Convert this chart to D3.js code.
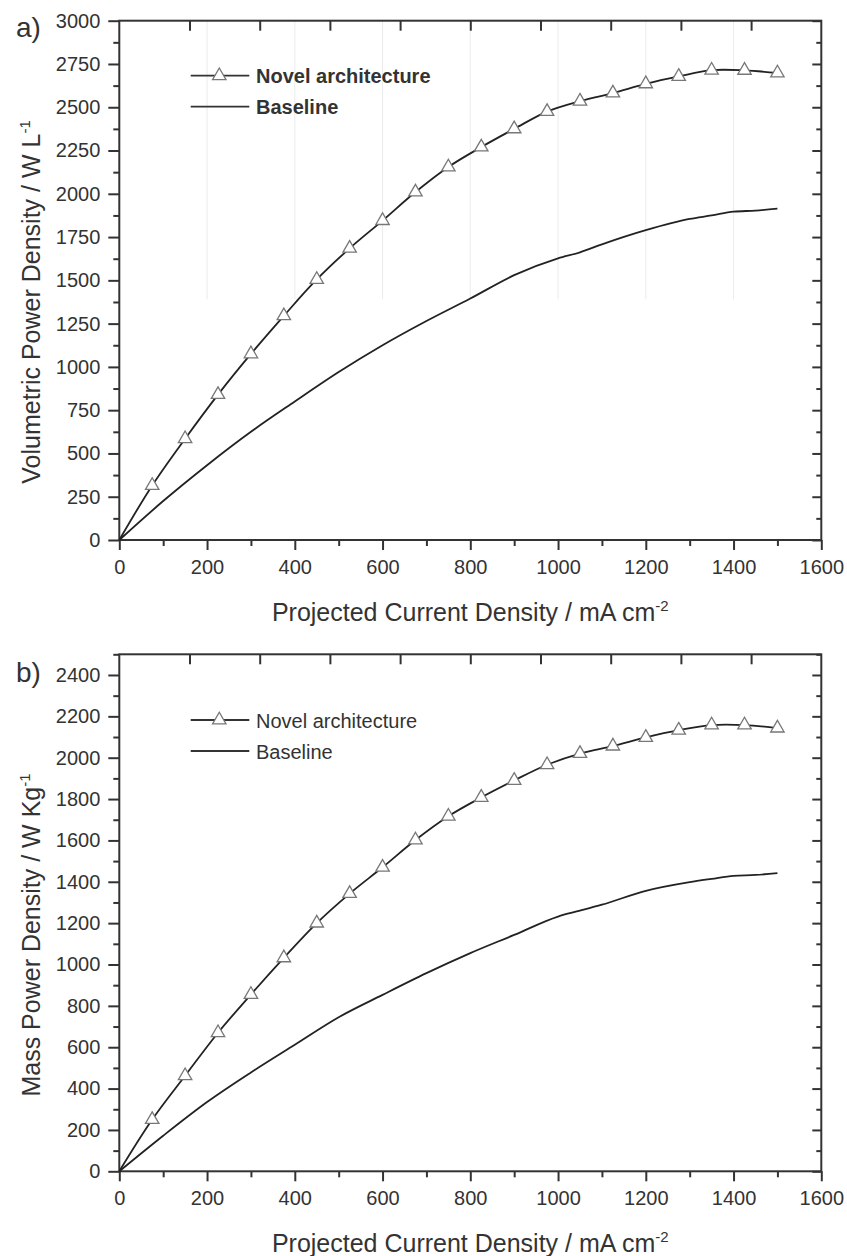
<!DOCTYPE html>
<html lang="en">
<head>
<meta charset="utf-8">
<title>Power density vs projected current density</title>
<script src="https://cdn.jsdelivr.net/npm/d3@7"></script>
<style>
  body { margin: 0; background: #fff; }
  svg text { font-family: "Liberation Sans", Arial, sans-serif; fill: #333; }
</style>
</head>
<body>
<script>
// DATA
var seriesNames = ["Novel architecture", "Baseline"];

// novel architecture: measured every 75 mA cm-2, markers on all but the first
var novelX = [0, 75, 150, 225, 300, 375, 450, 525, 600, 675, 750, 825, 900, 975, 1050, 1125, 1200, 1275, 1350, 1425, 1500];
var novelVol = [0, 315, 585, 840, 1075, 1295, 1505, 1685, 1845, 2010, 2155, 2270, 2375, 2475, 2535, 2582, 2635, 2678, 2714, 2713, 2698];
var novelMass = [0, 250, 462, 670, 855, 1032, 1200, 1343, 1470, 1602, 1717, 1808, 1890, 1966, 2020, 2056, 2098, 2133, 2158, 2158, 2143];

// baseline curve
var baseX = [0, 100, 200, 300, 400, 500, 600, 700, 800, 900, 1000, 1050, 1100, 1200, 1300, 1350, 1400, 1450, 1500];
var baseVol = [0, 225, 432, 625, 800, 970, 1125, 1265, 1395, 1530, 1627, 1662, 1708, 1790, 1855, 1875, 1897, 1903, 1914];
var baseMass = [0, 172, 335, 478, 612, 745, 853, 958, 1055, 1143, 1232, 1260, 1289, 1356, 1398, 1414, 1429, 1433, 1442];

// axis ticks
var xTicks = [0, 200, 400, 600, 800, 1000, 1200, 1400, 1600];
var xMinor = [100, 300, 500, 700, 900, 1100, 1300, 1500];
var xTopTicks = [160, 320, 480, 640, 800, 960, 1120, 1280, 1440];
var volTicks = [0, 250, 500, 750, 1000, 1250, 1500, 1750, 2000, 2250, 2500, 2750, 3000];
var volMinor = [125, 375, 625, 875, 1125, 1375, 1625, 1875, 2125, 2375, 2625, 2875];
var massTicks = [0, 200, 400, 600, 800, 1000, 1200, 1400, 1600, 1800, 2000, 2200, 2400];
var massMinor = [100, 300, 500, 700, 900, 1100, 1300, 1500, 1700, 1900, 2100, 2300, 2500];
var gridX = [200, 400, 600, 800, 1000, 1200, 1400];

// SIZES
var w = 847, h = 1256;
var left = 119.3, right = 821.3;
var ink = "#333";

var svg = d3.select("body").append("svg")
  .attr("width", w).attr("height", h);

var x = d3.scaleLinear().domain([0, 1600]).range([left, right]);

function drawPanel(p) {
  var y = d3.scaleLinear().domain(p.yDomain).range([p.bottom, p.top]);
  var g = svg.append("g");

  // faint grid (only in panel a, upper part)
  if (p.grid) {
    g.selectAll(".grid").data(gridX).enter().append("line")
      .attr("x1", function(d) { return x(d); })
      .attr("x2", function(d) { return x(d); })
      .attr("y1", y(p.yDomain[1])).attr("y2", y(p.gridTo))
      .attr("stroke", "#ececec").attr("stroke-width", 1);
  }

  // AXES
  function style(sel, width) {
    sel.select(".domain").remove();
    sel.selectAll("line").attr("stroke", ink).attr("stroke-width", width);
    sel.selectAll("text").attr("font-size", "20px").attr("fill", ink)
      .attr("font-family", "'Liberation Sans', Arial, sans-serif");
  }
  g.append("g").attr("transform", "translate(0," + p.bottom + ")")
    .call(d3.axisBottom(x).tickValues(xTicks).tickSize(10).tickPadding(10).tickFormat(d3.format("d")))
    .call(style, 2);
  g.append("g").attr("transform", "translate(0," + p.bottom + ")")
    .call(d3.axisBottom(x).tickValues(xMinor).tickSize(6).tickFormat(""))
    .call(style, 2);
  g.append("g").attr("transform", "translate(0," + p.top + ")")
    .call(d3.axisTop(x).tickValues(xTopTicks).tickSize(-10).tickFormat(""))
    .call(style, 2);
  g.append("g").attr("transform", "translate(" + left + ",0)")
    .call(d3.axisLeft(y).tickValues(p.yTicks).tickSize(11).tickPadding(8).tickFormat(d3.format("d")))
    .call(style, 2);
  g.append("g").attr("transform", "translate(" + left + ",0)")
    .call(d3.axisLeft(y).tickValues(p.yMinor).tickSize(6).tickFormat(""))
    .call(style, 2);
  g.append("g").attr("transform", "translate(" + right + ",0)")
    .call(d3.axisRight(y).tickValues(p.yTicks).tickSize(-9).tickFormat(""))
    .call(style, 2);
  g.append("g").attr("transform", "translate(" + right + ",0)")
    .call(d3.axisRight(y).tickValues(p.yMinor).tickSize(-5).tickFormat(""))
    .call(style, 2);

  // frame
  g.append("rect")
    .attr("x", left).attr("y", p.top)
    .attr("width", right - left).attr("height", p.bottom - p.top)
    .attr("fill", "none").attr("stroke", ink).attr("stroke-width", 2);

  // LINES
  var novel = novelX.map(function(d, i) { return [d, p.novel[i]]; });
  var base = baseX.map(function(d, i) { return [d, p.base[i]]; });
  var line = d3.line()
    .x(function(d) { return x(d[0]); })
    .y(function(d) { return y(d[1]); });

  g.append("path").datum(base)
    .attr("d", line.curve(d3.curveMonotoneX))
    .attr("fill", "none").attr("stroke", "#222").attr("stroke-width", 1.8);
  g.append("path").datum(novel)
    .attr("d", line.curve(d3.curveCatmullRom))
    .attr("fill", "none").attr("stroke", "#222").attr("stroke-width", 1.8);

  var tri = d3.symbol().type(d3.symbolTriangle).size(78);
  g.selectAll(".mk").data(novel.slice(1)).enter().append("path")
    .attr("d", tri)
    .attr("transform", function(d) { return "translate(" + x(d[0]) + "," + y(d[1]) + ")"; })
    .attr("fill", "#fff").attr("stroke", "#777").attr("stroke-width", 1.3);

  // LEGEND
  var lg = g.append("g");
  lg.append("line").attr("x1", 190.7).attr("x2", 249.3)
    .attr("y1", p.legY).attr("y2", p.legY)
    .attr("stroke", "#333").attr("stroke-width", 1.8);
  lg.append("path").attr("d", tri)
    .attr("transform", "translate(219.3," + p.legY + ")")
    .attr("fill", "#fff").attr("stroke", "#777").attr("stroke-width", 1.3);
  lg.append("line").attr("x1", 190.7).attr("x2", 249.3)
    .attr("y1", p.legY + 31).attr("y2", p.legY + 31)
    .attr("stroke", "#333").attr("stroke-width", 1.8);
  lg.selectAll("text").data(seriesNames).enter().append("text")
    .attr("x", 256)
    .attr("y", function(d, i) { return p.legY + 7.5 + i * 31; })
    .attr("font-size", "20px")
    .attr("font-weight", p.legBold ? "bold" : "normal")
    .attr("fill", "#222")
    .text(function(d) { return d; });

  // TITLES
  var xt = g.append("text")
    .attr("x", (left + right) / 2).attr("y", p.bottom + 81)
    .attr("text-anchor", "middle").attr("font-size", "25px");
  xt.append("tspan").text("Projected Current Density / mA cm");
  xt.append("tspan").attr("font-size", "15px").attr("dy", -10).text("-2");

  var yt = g.append("text")
    .attr("transform", "translate(40," + p.yTitleY + ") rotate(-90)")
    .attr("text-anchor", "middle").attr("font-size", "25px");
  yt.append("tspan").text(p.yTitle);
  yt.append("tspan").attr("font-size", "15px").attr("dy", -10).text("-1");

  g.append("text").attr("x", 16).attr("y", p.tagY)
    .attr("font-size", "28px").attr("fill", "#222").text(p.tag);
}

drawPanel({
  top: 20.7, bottom: 540, yDomain: [0, 3000],
  yTicks: volTicks, yMinor: volMinor,
  novel: novelVol, base: baseVol,
  grid: true, gridTo: 1390,
  legY: 75.7, legBold: true,
  yTitle: "Volumetric Power Density / W L", yTitleY: 302,
  tag: "a)", tagY: 37
});

drawPanel({
  top: 654.3, bottom: 1171.3, yDomain: [0, 2500],
  yTicks: massTicks, yMinor: massMinor,
  novel: novelMass, base: baseMass,
  grid: false,
  legY: 720, legBold: false,
  yTitle: "Mass Power Density / W Kg", yTitleY: 935,
  tag: "b)", tagY: 682
});
</script>
</body>
</html>
